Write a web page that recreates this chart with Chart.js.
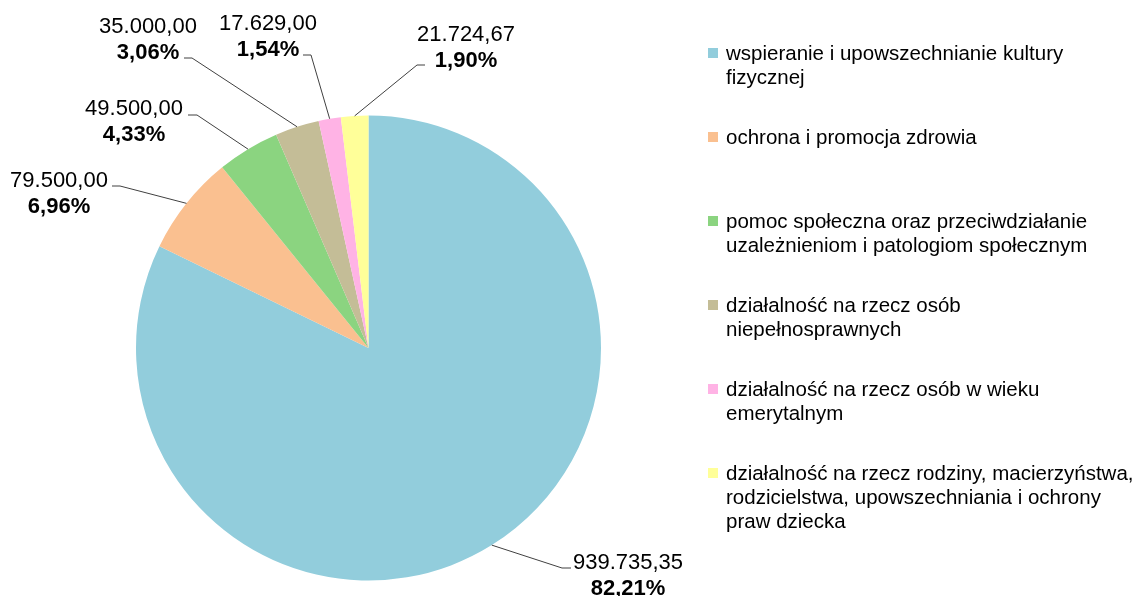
<!DOCTYPE html>
<html>
<head>
<meta charset="utf-8">
<script src="https://cdn.jsdelivr.net/npm/chart.js@4.4.1/dist/chart.umd.min.js"></script>
<style>
  html, body { margin: 0; padding: 0; background: #fff; }
  #wrap { position: relative; width: 1137px; height: 596px; overflow: hidden; }
  #pie { position: absolute; left: 0; top: 0; }
  #legend { position: absolute; left: 0; top: 0; font-family: "Liberation Sans", Arial, sans-serif; font-size: 20.5px; line-height: 24px; color: #000; }
  .item { position: absolute; left: 708px; white-space: nowrap; }
  .box { position: absolute; left: 0; top: 7px; width: 10px; height: 10px; }
  .txt { position: absolute; left: 18px; top: 0; }
</style>
</head>
<body>
<div id="wrap">
  <canvas id="pie" width="1137" height="596"></canvas>
  <div id="legend"></div>
</div>
<script>
const categories = [
  ["wspieranie i upowszechnianie kultury", "fizycznej"],
  ["ochrona i promocja zdrowia"],
  ["pomoc społeczna oraz przeciwdziałanie", "uzależnieniom i patologiom społecznym"],
  ["działalność na rzecz osób", "niepełnosprawnych"],
  ["działalność na rzecz osób w wieku", "emerytalnym"],
  ["działalność na rzecz rodziny, macierzyństwa,", "rodzicielstwa, upowszechniania i ochrony", "praw dziecka"],
];
const amounts = [939735.35, 79500, 49500, 35000, 17629, 21724.67];
const pctLabels = ["82,21%", "6,96%", "4,33%", "3,06%", "1,54%", "1,90%"];
const colors = ["#92CDDC", "#FAC090", "#8BD480", "#C4BD97", "#FFB3E5", "#FFFF99"];

// label block placement (text centre x, first baseline y, leader attach point)
const labelLayout = [
  { cx: 628, y: 569, ax: 571, ay: 568, dx: -9 },
  { cx: 59, y: 187, ax: 112, ay: 186, dx: 8 },
  { cx: 134, y: 115, ax: 188, ay: 115, dx: 9 },
  { cx: 148, y: 33, ax: 184, ay: 58, dx: 8 },
  { cx: 268, y: 30, ax: 303, ay: 55, dx: 8 },
  { cx: 466, y: 41, ax: 425, ay: 65, dx: -8 },
];

const fmtPl = (v) => {
  const [i, d] = v.toFixed(2).split(".");
  return i.replace(/\B(?=(\d{3})+(?!\d))/g, ".") + "," + d;
};

const leaderLabels = {
  id: "leaderLabels",
  afterDraw(chart) {
    const ctx = chart.ctx;
    const meta = chart.getDatasetMeta(0);
    ctx.save();
    meta.data.forEach((arc, i) => {
      const p = arc.getProps(["x", "y", "startAngle", "endAngle", "outerRadius"], true);
      const mid = (p.startAngle + p.endAngle) / 2;
      const ex = p.x + Math.cos(mid) * p.outerRadius;
      const ey = p.y + Math.sin(mid) * p.outerRadius;
      const L = labelLayout[i];
      ctx.strokeStyle = "#404040";
      ctx.lineWidth = 1;
      ctx.beginPath();
      ctx.moveTo(ex, ey);
      ctx.lineTo(L.ax + L.dx, L.ay);
      ctx.lineTo(L.ax, L.ay);
      ctx.stroke();

      ctx.fillStyle = "#000";
      ctx.textAlign = "center";
      ctx.textBaseline = "alphabetic";
      ctx.font = '22px "Liberation Sans", Arial, sans-serif';
      ctx.fillText(fmtPl(amounts[i]), L.cx, L.y);
      ctx.font = 'bold 22px "Liberation Sans", Arial, sans-serif';
      ctx.fillText(pctLabels[i], L.cx, L.y + 26);
    });
    ctx.restore();
  },
};

const pieChart = new Chart(document.querySelector("#pie"), {
  type: "pie",
  data: {
    labels: categories,
    datasets: [
      {
        data: amounts,
        backgroundColor: colors,
        borderWidth: 0,
      },
    ],
  },
  options: {
    responsive: false,
    devicePixelRatio: 1,
    animation: false,
    layout: { padding: { left: 136, top: 115, right: 536, bottom: 15 } },
    plugins: {
      legend: { display: false },
      tooltip: { enabled: false },
    },
  },
  plugins: [leaderLabels],
});

// legend on the right
const legend = document.querySelector("#legend");
categories.forEach((lines, i) => {
  const item = document.createElement("div");
  item.className = "item";
  item.style.top = 41 + i * 84 + "px";
  const box = document.createElement("div");
  box.className = "box";
  box.style.background = colors[i];
  const txt = document.createElement("div");
  txt.className = "txt";
  txt.innerHTML = lines.join("<br>");
  item.appendChild(box);
  item.appendChild(txt);
  legend.appendChild(item);
});
</script>
</body>
</html>
